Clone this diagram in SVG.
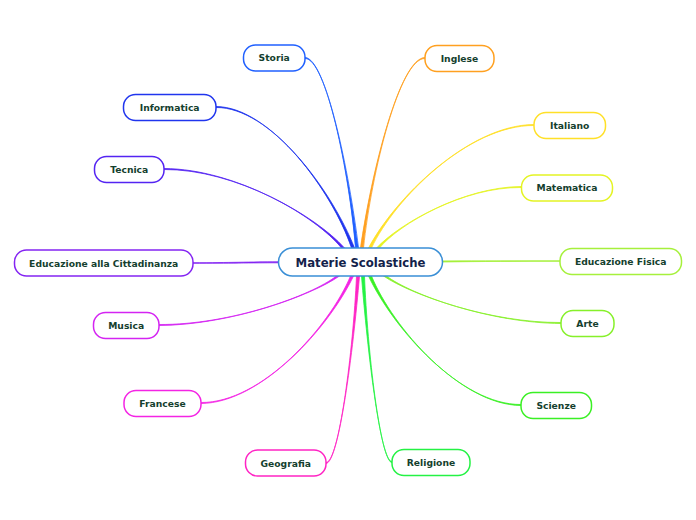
<svg xmlns="http://www.w3.org/2000/svg" width="696" height="520" viewBox="0 0 696 520">
<style>
.n rect{fill:#fff;stroke-width:1.5}
.n text{font-family:"DejaVu Sans",Verdana,sans-serif;font-weight:bold;font-size:9.2px;fill:#14402e;text-anchor:middle}
#center rect{fill:#fff;stroke:#3a8fd6;stroke-width:1.5}
#center text{font-family:"DejaVu Sans",Verdana,sans-serif;font-weight:bold;font-size:11.7px;fill:#13224a;text-anchor:middle}
#links path{stroke-width:0.8;stroke-linejoin:round}
</style>
<rect width="696" height="520" fill="#fff"/>
<g id="links">
<path d="M305,57.5 C325.8,58 349.2,172 355.5,248 L358.5,248 C349.2,172 325.8,58 305,58.5 Z" fill="#2060ff" stroke="#2060ff"/>
<path d="M425,57.5 C399.8,58 371.5,172 360.5,248 L363.5,248 C371.5,172 399.8,58 425,58.5 Z" fill="#ffa020" stroke="#ffa020"/>
<path d="M216,106.5 C270.8,107 332.5,191.6 351.5,248 L354.5,248 C332.5,191.6 270.8,107 216,107.5 Z" fill="#2035ee" stroke="#2035ee"/>
<path d="M534,124.5 C468.4,125 394.6,198.8 368.5,248 L371.5,248 C394.6,198.8 468.4,125 534,125.5 Z" fill="#ffe028" stroke="#ffe028"/>
<path d="M164,168.5 C235.6,169 316.2,216.4 341.5,248 L344.5,248 C316.2,216.4 235.6,169 164,169.5 Z" fill="#5424f2" stroke="#5424f2"/>
<path d="M521,186.5 C463.8,187 399.5,223.6 376.5,248 L379.5,248 C399.5,223.6 463.8,187 521,187.5 Z" fill="#e4f424" stroke="#e4f424"/>
<path d="M193,262.7 C230,262.7 250,261.8 278,261.8 L278,262.8 C250,262.8 230,263.3 193,263.3 Z" fill="#8424f2" stroke="#8424f2"/>
<path d="M443,260.9 C480,260.9 520,260.8 560,260.8 L560,261.3 C520,261.3 480,261.4 443,262 Z" fill="#a6f03c" stroke="#a6f03c"/>
<path d="M159,324.5 C230.6,325 311.2,295.6 336.5,276 L339.5,276 C311.2,295.6 230.6,325 159,325.5 Z" fill="#d424f2" stroke="#d424f2"/>
<path d="M561,322.5 C490.6,323 411.4,294.8 383.5,276 L386.5,276 C411.4,294.8 490.6,323 561,323.5 Z" fill="#86f02a" stroke="#86f02a"/>
<path d="M201,402.5 C261.4,403 329.4,326.8 350.5,276 L353.5,276 C329.4,326.8 261.4,403 201,403.5 Z" fill="#f424e4" stroke="#f424e4"/>
<path d="M521,404.5 C460.6,405 392.7,327.6 368.5,276 L371.5,276 C392.7,327.6 460.6,405 521,405.5 Z" fill="#3af024" stroke="#3af024"/>
<path d="M326,462.5 C338.8,463 353.2,350.8 356.5,276 L359.5,276 C353.2,350.8 338.8,463 326,463.5 Z" fill="#ff24c4" stroke="#ff24c4"/>
<path d="M392,461.5 C380.4,462 367.4,350.4 361.5,276 L364.5,276 C367.4,350.4 380.4,462 392,462.5 Z" fill="#24f244" stroke="#24f244"/>
</g>
<g id="center"><rect x="278.5" y="248" width="164" height="28" rx="14"/><text x="360.5" y="266.5">Materie Scolastiche</text></g>
<g id="storia" class="n"><rect x="243.5" y="45" width="61.5" height="26" rx="12" stroke="#2060ff"/><text x="274.2" y="61.3">Storia</text></g>
<g id="inglese" class="n"><rect x="425" y="45.5" width="69" height="26" rx="12" stroke="#ffa020"/><text x="459.5" y="62">Inglese</text></g>
<g id="informatica" class="n"><rect x="123.5" y="94.5" width="92.5" height="26" rx="12" stroke="#2035ee"/><text x="169.7" y="111">Informatica</text></g>
<g id="italiano" class="n"><rect x="534" y="112.5" width="71.5" height="26" rx="12" stroke="#ffe028"/><text x="569.7" y="129">Italiano</text></g>
<g id="tecnica" class="n"><rect x="94.5" y="156.5" width="69.5" height="26" rx="12" stroke="#5424f2"/><text x="129.2" y="173">Tecnica</text></g>
<g id="matematica" class="n"><rect x="521.5" y="175" width="91" height="26" rx="12" stroke="#e4f424"/><text x="567" y="191.3">Matematica</text></g>
<g id="cittadinanza" class="n"><rect x="14.5" y="250" width="178.5" height="26" rx="12" stroke="#8424f2"/><text x="103.7" y="266.5">Educazione alla Cittadinanza</text></g>
<g id="fisica" class="n"><rect x="560" y="248.5" width="121.5" height="26" rx="12" stroke="#a6f03c"/><text x="620.7" y="265">Educazione Fisica</text></g>
<g id="musica" class="n"><rect x="93.5" y="312.5" width="65.5" height="26" rx="12" stroke="#d424f2"/><text x="126.2" y="329">Musica</text></g>
<g id="arte" class="n"><rect x="561" y="310.5" width="53" height="26" rx="12" stroke="#86f02a"/><text x="587.5" y="327">Arte</text></g>
<g id="francese" class="n"><rect x="124" y="390.5" width="77" height="26" rx="12" stroke="#f424e4"/><text x="162.5" y="407">Francese</text></g>
<g id="scienze" class="n"><rect x="521" y="392.5" width="70.5" height="26" rx="12" stroke="#3af024"/><text x="556.2" y="409">Scienze</text></g>
<g id="geografia" class="n"><rect x="245.5" y="450" width="80.5" height="26" rx="12" stroke="#ff24c4"/><text x="285.7" y="466.5">Geografia</text></g>
<g id="religione" class="n"><rect x="392" y="449.5" width="78" height="26" rx="12" stroke="#24f244"/><text x="431" y="466">Religione</text></g>
</svg>
